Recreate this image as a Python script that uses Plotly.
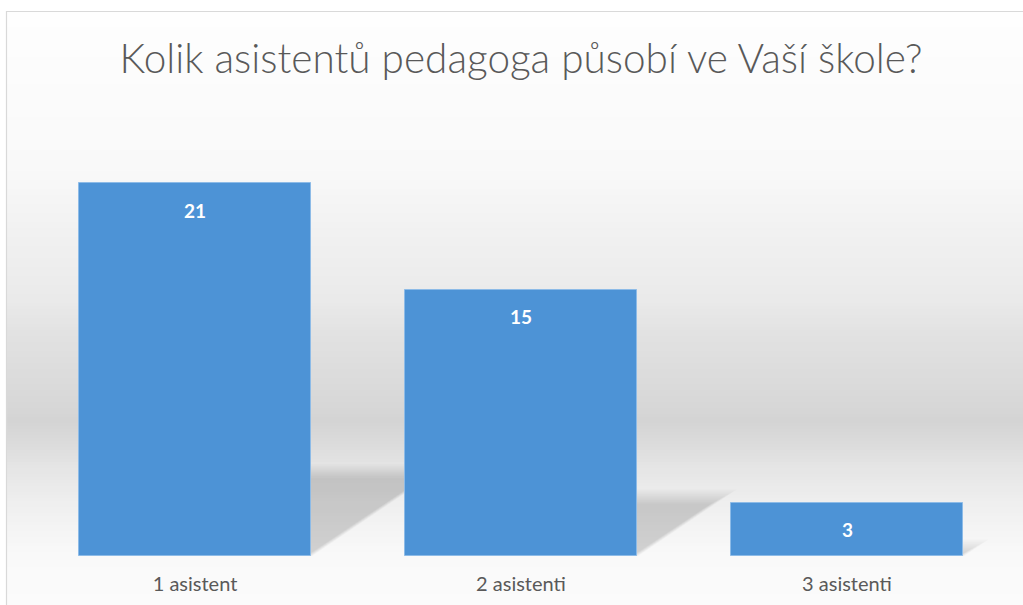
import plotly.graph_objects as go

categories = ["1 asistent", "2 asistenti", "3 asistenti"]
values = [21, 15, 3]
title_text = "Kolik asistentů pedagoga působí ve Vaší škole?"

W, H = 1023, 605
L, R, T, B = 32, 13, 112, 49
plot_w = W - L - R
plot_h = H - T - B
y_max = 25
px_per_unit_y = plot_h / y_max
px_per_cat = plot_w / 3
bar_w = 0.71
font_family = "Lato, 'Open Sans', sans-serif"

xs = list(range(len(categories)))

fig = go.Figure()
fig.add_trace(go.Bar(
    x=xs, y=values, width=bar_w,
    marker=dict(color="#4d93d6", line=dict(color="#8dbbe7", width=1)),
    hoverinfo="x+y",
))

shapes = []

def py_to_paper(py):
    return (H - B - py) / plot_h

def px_to_paper(px):
    return (px - L) / plot_w

stops = [(12, 254), (100, 251), (167, 249), (233, 241), (300, 234), (333, 226),
         (400, 216), (420, 212), (440, 218), (467, 229), (500, 238), (533, 245),
         (556, 249), (606, 251)]

def gray_at(py):
    for (a, ga), (b, gb) in zip(stops[:-1], stops[1:]):
        if a <= py <= b:
            t = (py - a) / (b - a)
            return ga + (gb - ga) * t
    return stops[-1][1]

step = 3
py = 12
while py < 606:
    g = int(round(gray_at(py + step / 2)))
    col = f"rgb({g},{g},{g})"
    shapes.append(dict(type="rect", xref="paper", yref="paper",
                       x0=px_to_paper(7), x1=px_to_paper(1030),
                       y0=py_to_paper(py + step + 0.5), y1=py_to_paper(py),
                       fillcolor=col, line=dict(width=0), layer="below"))
    py += step

# frame
shapes.append(dict(type="rect", xref="paper", yref="paper",
                   x0=px_to_paper(6.5), x1=px_to_paper(1040),
                   y0=py_to_paper(620), y1=py_to_paper(11.5),
                   fillcolor="rgba(0,0,0,0)", line=dict(color="#d9d9d9", width=1.2),
                   layer="below"))

# soft floor shadows behind bars
for i, v in zip(xs, values):
    h = 0.235 * v
    dx = 0.019 * v
    for k in range(8):
        inset_px = 2.0 * k - 4
        dy_in = inset_px / px_per_unit_y
        dx_in = inset_px * 1.4 / px_per_cat
        top = max(h - dy_in, 0.05)
        x_left = i - bar_w / 2
        x_right = i + bar_w / 2 - dx_in * 0.3
        path = (f"M {x_left},0 L {x_right},0 "
                f"L {x_right + dx - dx_in},{top} L {x_left + dx},{top} Z")
        shapes.append(dict(type="path", xref="x", yref="y", path=path,
                           fillcolor="rgba(0,0,0,0.021)", line=dict(width=0),
                           layer="below"))

annotations = []
for i, v in zip(xs, values):
    annotations.append(dict(x=i, y=v, xref="x", yref="y", text=f"<b>{v}</b>",
                            showarrow=False, yanchor="middle", yshift=-27,
                            font=dict(family=font_family, size=19, color="white")))

fig.update_layout(
    width=W, height=H,
    margin=dict(l=L, r=R, t=T, b=B, pad=0, autoexpand=False),
    paper_bgcolor="white",
    plot_bgcolor="rgba(0,0,0,0)",
    showlegend=False,
    title=dict(text=title_text, x=0.5, xref="paper", xanchor="center",
               y=1 - 59 / H, yanchor="middle",
               font=dict(family=font_family, size=40.5, color="#595959", weight=300)),
    xaxis=dict(range=[-0.5, 2.5], tickvals=xs, ticktext=categories,
               showgrid=False, zeroline=False, showline=False, ticks="",
               ticklabelstandoff=14, automargin=False,
               tickfont=dict(family=font_family, size=20, color="#595959")),
    yaxis=dict(range=[0, y_max], visible=False, automargin=False),
    shapes=shapes,
    annotations=annotations,
    bargap=0,
)

fig.write_html("out.html", config={"displayModeBar": False},
               post_script="document.body.style.margin='0';document.body.style.overflow='hidden';")
